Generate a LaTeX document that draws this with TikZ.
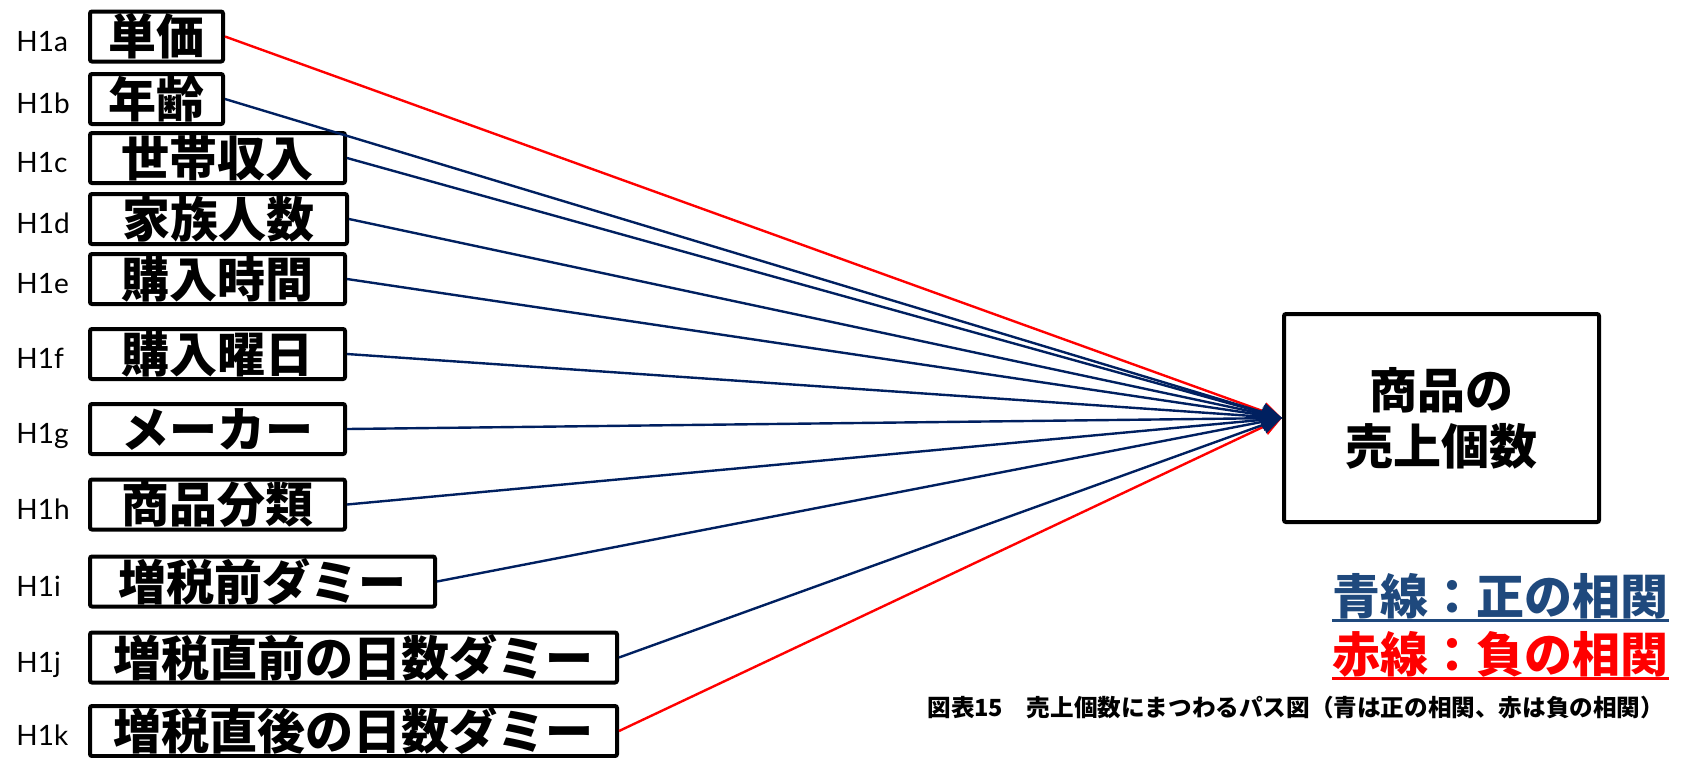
\documentclass[tikz,border=0pt]{standalone}
\usepackage{fontspec}
\newfontfamily\jp{Noto Sans CJK JP}
\newfontfamily\lat{Lato}
\usetikzlibrary{arrows.meta}
\definecolor{navy}{HTML}{002060}
\definecolor{legblue}{HTML}{1F497D}
\definecolor{negred}{HTML}{FF0000}
\begin{document}
\begin{tikzpicture}[x=0.5pt,y=-0.5pt,
  vbox/.style={draw=black, line width=2pt, rounded corners=1pt, inner sep=0pt,
    minimum height=25pt, font=\jp\bfseries\fontsize{24}{28}\selectfont},
  hlabel/.style={anchor=base west, inner sep=0pt, font=\lat\fontsize{14}{16}\selectfont},
  poslink/.style={draw=navy, line width=1.2pt, -{Triangle[length=10pt,width=9pt]}},
  neglink/.style={draw=negred, line width=1.2pt, -{Triangle[length=10pt,width=9pt]}},
  legend/.style={anchor=base west, inner sep=0pt, font=\jp\bfseries\fontsize{24}{28}\selectfont}]
\useasboundingbox[fill=white] (0,0) rectangle (1683,757);

% variable boxes
\node[vbox, minimum width=66.5pt]  (a) at (156.5,36.5) {単価};
\node[vbox, minimum width=66.5pt]  (b) at (156.5,99)   {年齢};
\node[vbox, minimum width=127.5pt] (c) at (217.5,158)  {世帯収入};
\node[vbox, minimum width=128.5pt] (d) at (218.5,219)  {家族人数};
\node[vbox, minimum width=127.5pt] (e) at (217.5,279)  {購入時間};
\node[vbox, minimum width=127.5pt] (f) at (217.5,354)  {購入曜日};
\node[vbox, minimum width=127.5pt] (g) at (217.5,429)  {メーカー};
\node[vbox, minimum width=127.5pt] (h) at (217.5,504.5){商品分類};
\node[vbox, minimum width=172.5pt] (i) at (262.5,581.5){増税前ダミー};
\node[vbox, minimum width=263.5pt] (j) at (353.5,657.5){増税直前の日数ダミー};
\node[vbox, minimum width=263.5pt] (k) at (353.5,731)  {増税直後の日数ダミー};

% hypothesis labels
\node[hlabel] (la) at (16,51)    {H1a};
\node[hlabel] (lb) at (16,113.5) {H1b};
\node[hlabel] (lc) at (16,172.5) {H1c};
\node[hlabel] (ld) at (16,233.5) {H1d};
\node[hlabel] (le) at (16,293.5) {H1e};
\node[hlabel] (lf) at (16,368.5) {H1f};
\node[hlabel] (lg) at (16,443.5) {H1g};
\node[hlabel] (lh) at (16,519)   {H1h};
\node[hlabel] (li) at (16,596)   {H1i};
\node[hlabel] (lj) at (16,672)   {H1j};
\node[hlabel] (lk) at (16,745)   {H1k};

% outcome box
\node[draw=black, line width=2pt, rounded corners=1pt, inner sep=0pt,
  minimum width=157.5pt, minimum height=104pt, align=center,
  font=\jp\bfseries\fontsize{24}{28}\selectfont] (out) at (1441.5,418) {商品の\\売上個数};

% connectors (red first so the blue heads sit on top, red edges peeking out)
\foreach \n in {a,k} \draw[neglink] (\n.east) -- (out.west);
\foreach \n in {b,c,d,e,f,g,h,i,j} \draw[poslink] (\n.east) -- (out.west);

% legend
\node[legend, text=legblue] (lp) at (1332,614) {青線：正の相関};
\draw[legblue, line width=1.5pt] ([yshift=-3pt]lp.base west) -- ([yshift=-3pt]lp.base east);
\node[legend, text=negred] (ln) at (1332,672) {赤線：負の相関};
\draw[negred, line width=1.5pt] ([yshift=-3pt]ln.base west) -- ([yshift=-3pt]ln.base east);

% caption
\node[anchor=base west, inner sep=0pt, font=\jp\bfseries\fontsize{11.8}{14}\selectfont] (cap)
  at (927,716) {図表15　売上個数にまつわるパス図（青は正の相関、赤は負の相関）};
\end{tikzpicture}
\end{document}
